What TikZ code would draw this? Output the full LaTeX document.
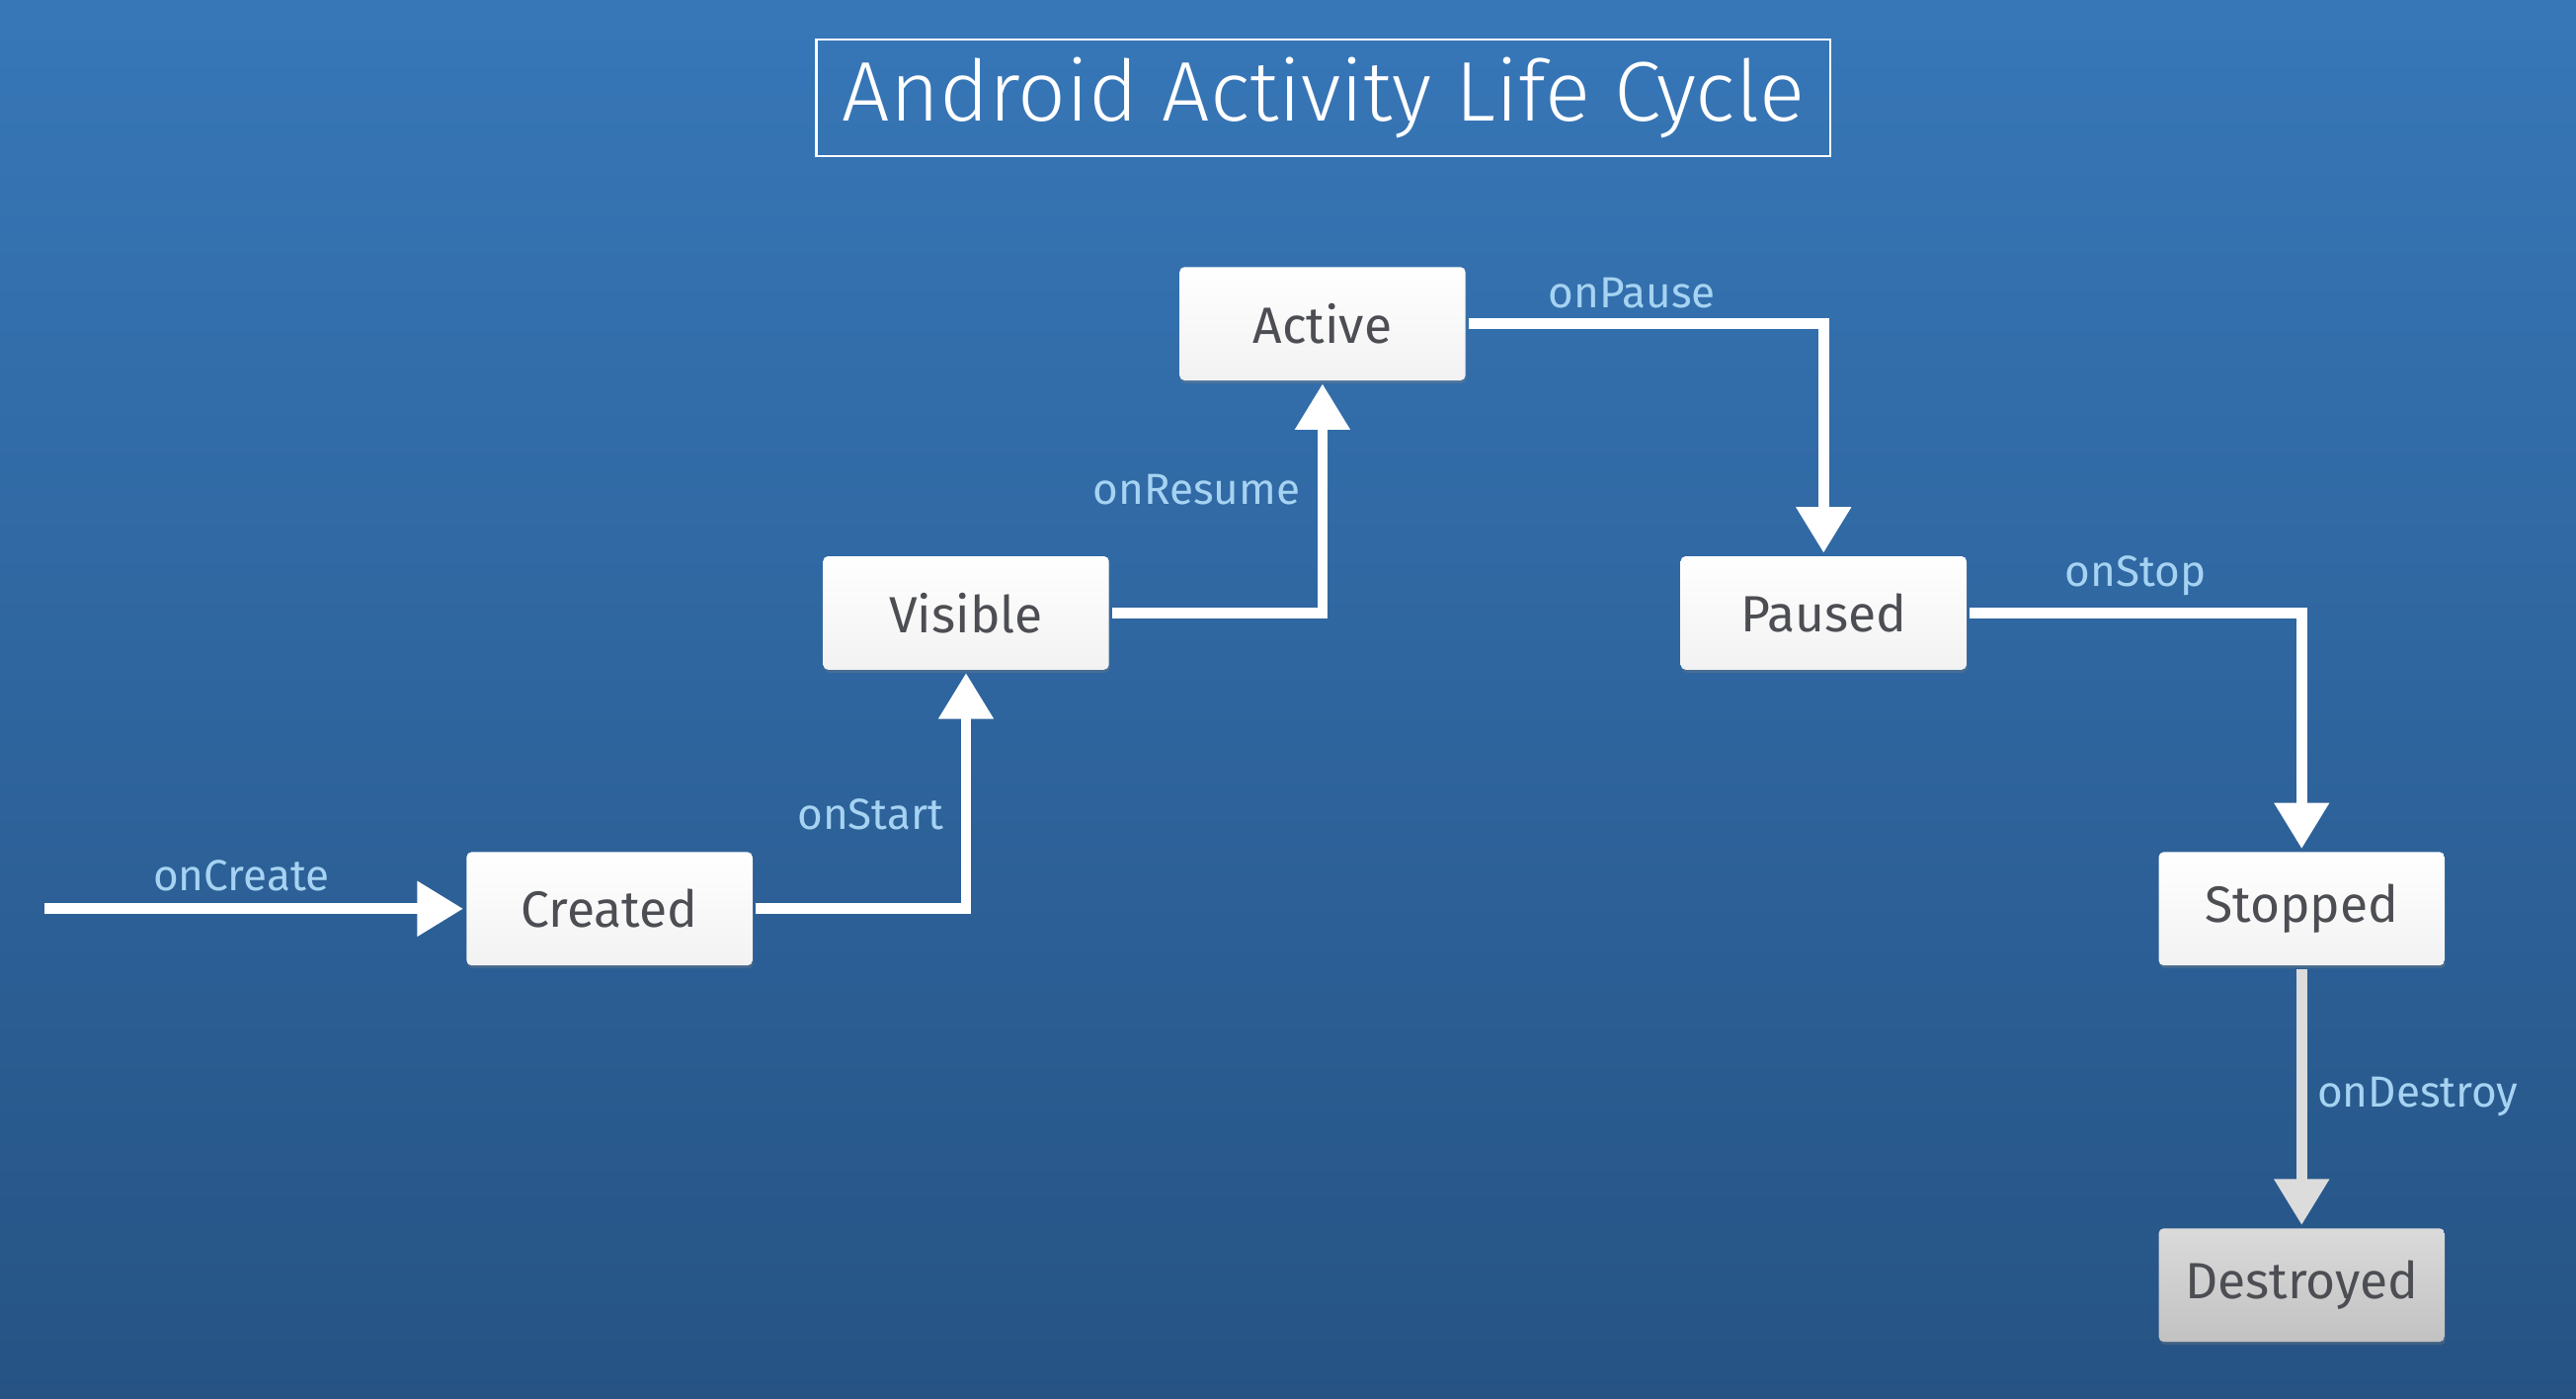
\documentclass[tikz,border=0pt]{standalone}
\usepackage{fontspec}
\setmainfont{Fira Sans}
\newfontfamily\titlefont{Fira Sans Light}
\usetikzlibrary{arrows.meta}
\usetikzlibrary{shadows}

\definecolor{bgtop}{HTML}{3777B8}
\definecolor{bgmid}{HTML}{3370B0}
\definecolor{bgbot}{HTML}{265384}
\definecolor{hooktext}{HTML}{A6D3F2}
\definecolor{statetext}{HTML}{4C4E53}
\definecolor{boxbot}{HTML}{F2F2F2}
\definecolor{deadtop}{HTML}{DADADA}
\definecolor{deadbot}{HTML}{C2C2C2}
\definecolor{deadline}{HTML}{DCDCDC}

\begin{document}
\begin{tikzpicture}[
  state/.style={rounded corners=3pt, minimum width=174pt, minimum height=69pt,
    inner sep=0pt, outer sep=2pt, top color=white, bottom color=boxbot,
    text=statetext, font=\fontsize{31}{36}\selectfont,
    drop shadow={shadow xshift=0.6pt, shadow yshift=-1.8pt, opacity=0.3}},
  flow/.style={white, line width=6.5pt, -{Triangle[length=28pt,width=32pt]}},
  hook/.style={text=hooktext, font=\fontsize{26.5}{30}\selectfont}
]
\useasboundingbox (0,0) rectangle (1568pt,-851pt);
\shade [top color=bgtop, middle color=bgmid, bottom color=bgbot] (0,0) rectangle (1568pt,-851pt);

\node [draw=white, line width=1.6pt, minimum width=617pt, minimum height=71pt, inner sep=0pt,
       text=white, font=\titlefont\fontsize{51.5}{60}\selectfont] (title) at (805.5pt,-59.5pt)
      {\raisebox{-6pt}{Android Activity Life Cycle}};

\node [state] (created)   at (371pt,-553pt)  {Created};
\node [state] (visible)   at (588pt,-373pt)  {Visible};
\node [state] (active)    at (805pt,-197pt)  {Active};
\node [state] (paused)    at (1110pt,-373pt) {Paused};
\node [state] (stopped)   at (1401pt,-553pt) {Stopped};
\node [state, top color=deadtop, bottom color=deadbot] (destroyed) at (1401pt,-782pt) {Destroyed};

\coordinate (launch) at (27pt,-553pt);

\draw [flow] (launch) -- (created.west) node [hook, pos=0.47, above=4pt] {onCreate};
\draw [flow] (created.east) -| (visible.south) node [hook, pos=0.7, left=7pt] {onStart};
\draw [flow] (visible.east) -| (active.south) node [hook, pos=0.77, left=7pt] {onResume};
\draw [flow] (active.east) -| (paused.north) node [hook, pos=0.23, above=3pt] {onPause};
\draw [flow] (paused.east) -| (stopped.north) node [hook, pos=0.25, above=4pt] {onStop};
\draw [flow, deadline] (stopped.south) -- (destroyed.north) node [hook, midway, right=3pt] {onDestroy};
\end{tikzpicture}
\end{document}
